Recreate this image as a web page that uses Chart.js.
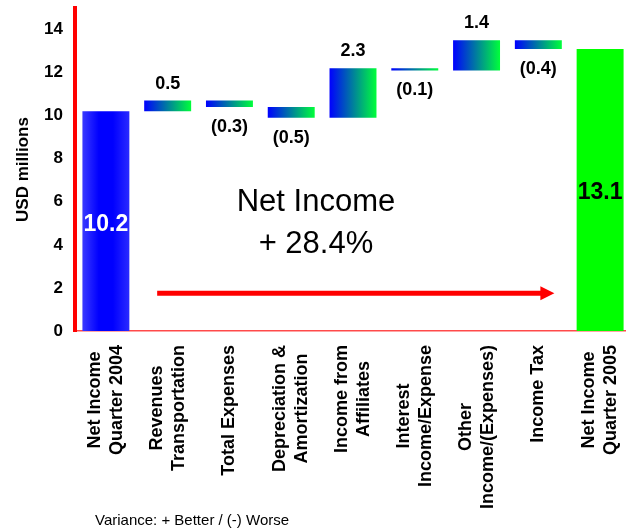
<!DOCTYPE html>
<html>
<head>
<meta charset="utf-8">
<script src="https://cdn.jsdelivr.net/npm/chart.js@4.4.1/dist/chart.umd.min.js"></script>
<style>
  html, body { margin: 0; padding: 0; background: #fff; overflow: hidden; }
  #wrap { width: 631px; height: 529px; }
</style>
</head>
<body>
<div id="wrap"><canvas id="waterfall" width="631" height="529"></canvas></div>
<script>
// categories (multi line labels) and waterfall values, USD millions
const categories = [
  ['Net Income', 'Quarter 2004'],
  ['Revenues', 'Transportation'],
  ['Total Expenses'],
  ['Depreciation &', 'Amortization'],
  ['Income from', 'Affiliates'],
  ['Interest', 'Income/Expense'],
  ['Other', 'Income/(Expenses)'],
  ['Income Tax'],
  ['Net Income', 'Quarter 2005']
];
const barStart = [0, 10.2, 10.7, 10.4, 9.9, 12.2, 12.1, 13.5, 0];
const barEnd = [10.2, 10.7, 10.4, 9.9, 12.2, 12.1, 13.5, 13.1, 13.1];
const valueLabels = ['10.2', '0.5', '(0.3)', '(0.5)', '2.3', '(0.1)', '1.4', '(0.4)', '13.1'];
const yTickValues = [0, 2, 4, 6, 8, 10, 12, 14];

const FONT = 'Arial, "Liberation Sans", sans-serif';
const barPct = 0.76;

function barFill(ctx) {
    const chart = ctx.chart;
    const xs = chart.scales.x;
    const i = ctx.dataIndex;
    if (i === categories.length - 1) return '#00ff00';
    if (!chart.chartArea || !xs) return '#0000ff';
    const cx = xs.getPixelForValue(i);
    const half = xs.width / categories.length * barPct / 2;
    const g = chart.ctx.createLinearGradient(cx - half, 0, cx + half, 0);
    if (i === 0) {
        g.addColorStop(0, '#3a3aff');
        g.addColorStop(0.35, '#0000ff');
        g.addColorStop(0.65, '#0000ff');
        g.addColorStop(1, '#2a2aff');
    } else {
        g.addColorStop(0, '#0000ff');
        g.addColorStop(1, '#00ff3a');
    }
    return g;
}

// value labels, x labels, centre text, arrow, footnote
const annotations = {
    id: 'annotations',
    afterDatasetsDraw(chart) {
        const ctx = chart.ctx;
        const xs = chart.scales.x;
        const ys = chart.scales.y;
        const bars = chart.getDatasetMeta(0).data;
        ctx.save();
        ctx.fillStyle = '#000';

        // value labels
        bars.forEach((bar, i) => {
            const top = Math.min(bar.y, bar.base);
            const bottom = Math.max(bar.y, bar.base);
            ctx.textAlign = 'center';
            if (i === 0 || i === bars.length - 1) {
                ctx.font = 'bold 23px ' + FONT;
                ctx.fillStyle = i === 0 ? '#fff' : '#000';
                ctx.textBaseline = 'middle';
                ctx.fillText(valueLabels[i], bar.x, (top + bottom) / 2 + 3);
                ctx.fillStyle = '#000';
                return;
            }
            ctx.font = 'bold 18px ' + FONT;
            if (barEnd[i] >= barStart[i]) {
                ctx.textBaseline = 'bottom';
                ctx.fillText(valueLabels[i], bar.x, top - 8);
            } else {
                ctx.textBaseline = 'top';
                ctx.fillText(valueLabels[i], bar.x, bottom + 11);
            }
        });

        // centre text
        ctx.font = '31px ' + FONT;
        ctx.textAlign = 'center';
        ctx.textBaseline = 'middle';
        ctx.fillText('Net Income', xs.getPixelForValue(3.4), ys.getPixelForValue(5.95));
        ctx.fillText('+ 28.4%', xs.getPixelForValue(3.4), ys.getPixelForValue(4.0));

        // arrow
        const ay = ys.getPixelForValue(1.75);
        const ax0 = xs.getPixelForValue(0.83);
        const ax1 = xs.getPixelForValue(7.26);
        ctx.strokeStyle = '#ff0000';
        ctx.fillStyle = '#ff0000';
        ctx.lineWidth = 5;
        ctx.beginPath();
        ctx.moveTo(ax0, ay);
        ctx.lineTo(ax1 - 12, ay);
        ctx.stroke();
        ctx.beginPath();
        ctx.moveTo(ax1, ay);
        ctx.lineTo(ax1 - 14, ay - 7);
        ctx.lineTo(ax1 - 14, ay + 7);
        ctx.closePath();
        ctx.fill();

        // x labels, rotated, lines centred on each other
        ctx.fillStyle = '#000';
        ctx.font = 'bold 18px ' + FONT;
        ctx.textAlign = 'center';
        ctx.textBaseline = 'middle';
        const labelTop = chart.chartArea.bottom + 14;
        categories.forEach((lines, i) => {
            const w = Math.max(...lines.map(l => ctx.measureText(l).width));
            const cx = xs.getPixelForValue(i);
            ctx.save();
            ctx.translate(cx, labelTop);
            ctx.rotate(-Math.PI / 2);
            lines.forEach((l, j) => {
                ctx.fillText(l, -w / 2, (j - (lines.length - 1) / 2) * 22);
            });
            ctx.restore();
        });

        // footnote
        ctx.font = '15px ' + FONT;
        ctx.textAlign = 'left';
        ctx.textBaseline = 'middle';
        ctx.fillText('Variance: + Better / (-) Worse', 95, 521);
        ctx.restore();
    }
};

document.addEventListener('DOMContentLoaded', function () {
    const ctx = document.getElementById('waterfall').getContext('2d');

    new Chart(ctx, {
        type: 'bar',
        data: {
            labels: categories,
            datasets: [{
                data: barStart.map((s, i) => [s, barEnd[i]]),
                backgroundColor: barFill,
                borderWidth: 0,
                borderSkipped: false,
                barPercentage: barPct,
                categoryPercentage: 1
            }]
        },
        options: {
            responsive: false,
            animation: false,
            layout: { padding: { top: 8, left: 0, right: 0, bottom: 0 } },
            plugins: {
                legend: { display: false },
                tooltip: { enabled: false }
            },
            scales: {
                x: {
                    grid: { display: false, drawTicks: false },
                    border: { color: '#ff4a4a', width: 1.5 },
                    ticks: { display: false },
                    afterFit: s => { s.height = 198; s.paddingLeft = 0; s.paddingRight = 0; }
                },
                y: {
                    min: 0,
                    max: 15,
                    grid: { display: false, drawTicks: false },
                    border: { color: '#ff0000', width: 4 },
                    afterBuildTicks: s => { s.ticks = yTickValues.map(v => ({ value: v })); },
                    ticks: {
                        color: '#000',
                        padding: 12,
                        font: { family: FONT, size: 17, weight: 'bold' }
                    },
                    title: {
                        display: true,
                        text: 'USD millions',
                        color: '#000',
                        padding: { top: 13, bottom: 0 },
                        font: { family: FONT, size: 17, weight: 'bold' }
                    },
                    afterFit: s => { s.width = 75; s.paddingTop = 0; s.paddingBottom = 0; }
                }
            }
        },
        plugins: [annotations]
    });
});
</script>
</body>
</html>
